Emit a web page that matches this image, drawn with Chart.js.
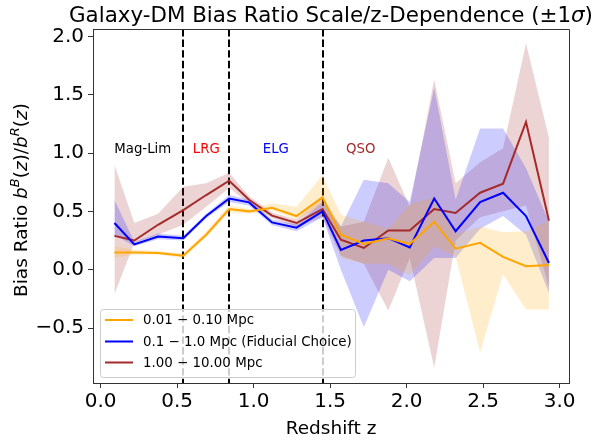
<!DOCTYPE html>
<html>
<head>
<meta charset="utf-8">
<script src="https://cdn.jsdelivr.net/npm/chart.js@4"></script>
<style>
  html, body { margin: 0; padding: 0; background: #fff; }
</style>
</head>
<body>
<canvas id="biasChart" width="593" height="441"></canvas>
<script>
// redshift bin centres
const redshift = [0.09, 0.22, 0.375, 0.54, 0.69, 0.84, 0.97, 1.12, 1.28, 1.45,
                  1.57, 1.72, 1.88, 2.02, 2.18, 2.32, 2.48, 2.63, 2.78, 2.93];

// 0.01 - 0.10 Mpc
const smallScale   = [0.148, 0.148, 0.143, 0.12, 0.30, 0.52, 0.50, 0.53, 0.46, 0.62,
                      0.30, 0.22, 0.27, 0.22, 0.41, 0.18, 0.23, 0.11, 0.03, 0.04];
const smallScaleLo = [0.10, 0.13, 0.13, 0.10, 0.28, 0.49, 0.48, 0.51, 0.43, 0.55,
                      0.10, 0.05, 0.05, -0.05, 0.20, 0.11, -0.71, -0.04, -0.34, -0.34];
const smallScaleHi = [0.20, 0.17, 0.16, 0.14, 0.33, 0.55, 0.52, 0.57, 0.54, 0.81,
                      0.47, 0.41, 0.35, 0.56, 0.62, 0.30, 0.37, 0.32, 0.33, 0.42];

// 0.1 - 1.0 Mpc (fiducial)
const midScale   = [0.40, 0.217, 0.285, 0.27, 0.46, 0.61, 0.577, 0.405, 0.36, 0.50,
                    0.17, 0.25, 0.27, 0.19, 0.61, 0.33, 0.58, 0.66, 0.46, 0.057];
const midScaleLo = [0.30, 0.20, 0.26, 0.25, 0.44, 0.58, 0.55, 0.38, 0.33, 0.45,
                    0.00, -0.49, 0.00, -0.10, 0.10, 0.10, 0.35, 0.46, 0.30, -0.20];
const midScaleHi = [0.60, 0.24, 0.31, 0.29, 0.48, 0.64, 0.60, 0.43, 0.39, 0.58,
                    0.37, 0.77, 0.74, 0.58, 1.56, 0.60, 1.21, 1.21, 0.87, 0.41];

// 1.00 - 10.00 Mpc
const largeScale   = [0.29, 0.25, 0.385, 0.51, 0.64, 0.763, 0.60, 0.463, 0.40, 0.52,
                      0.257, 0.186, 0.337, 0.337, 0.52, 0.486, 0.66, 0.737, 1.266, 0.42];
const largeScaleLo = [-0.21, 0.23, 0.30, 0.385, 0.54, 0.70, 0.57, 0.44, 0.37, 0.45,
                      0.12, 0.05, -0.35, 0.10, -0.84, 0.25, 0.45, 0.50, 0.55, -0.15];
const largeScaleHi = [0.90, 0.40, 0.48, 0.71, 0.74, 0.83, 0.63, 0.49, 0.43, 0.62,
                      0.37, 0.41, 0.96, 0.54, 1.63, 0.74, 0.92, 1.04, 1.94, 1.13];

const seriesLabels = ['0.01 \u2212 0.10 Mpc', '0.1 \u2212 1.0 Mpc (Fiducial Choice)', '1.00 \u2212 10.00 Mpc'];
const seriesColors = ['#FFA500', '#0000FF', '#A52A2A'];
const bandColors   = ['rgba(255,165,0,0.2)', 'rgba(0,0,255,0.2)', 'rgba(165,42,42,0.2)'];

// tracer sample boundaries and names
const sampleEdges  = [0.54, 0.84, 1.45];
const sampleNames  = ['Mag-Lim', 'LRG', 'ELG', 'QSO'];
const sampleNameZ  = [0.275, 0.69, 1.145, 1.70];
const sampleColors = ['#000000', '#FF0000', '#0000FF', '#A52A2A'];
const sampleNameY  = 1.0;

const xTicks = [0.0, 0.5, 1.0, 1.5, 2.0, 2.5, 3.0];
const yTicks = [-0.5, 0.0, 0.5, 1.0, 1.5, 2.0];

const FONT = "'DejaVu Sans', sans-serif";

function pts(ys) {
    return redshift.map((z, i) => ({ x: z, y: ys[i] }));
}

function band(lo, hi, color) {
    return [
        { data: pts(lo), borderColor: 'rgba(0,0,0,0)', borderWidth: 1, pointRadius: 0, fill: false, order: 5 },
        { data: pts(hi), borderColor: 'rgba(0,0,0,0)', borderWidth: 1, pointRadius: 0, fill: '-1', backgroundColor: color, order: 5 }
    ];
}

function line(ys, color) {
    return { data: pts(ys), borderColor: color, borderWidth: 2, pointRadius: 0, fill: false, tension: 0, order: 0 };
}

// draws a row of text pieces: [text, italic, scale, raise]
function drawRuns(ctx, runs, x, y, size, align) {
    const fontFor = r => (r[1] ? 'italic ' : '') + (size * (r[2] || 1)) + 'px ' + FONT;
    let total = 0;
    runs.forEach(r => { ctx.font = fontFor(r); total += ctx.measureText(r[0]).width; });
    let cx = align === 'center' ? x - total / 2 : x;
    ctx.textAlign = 'left';
    ctx.textBaseline = 'alphabetic';
    runs.forEach(r => {
        ctx.font = fontFor(r);
        ctx.fillText(r[0], cx, y - (r[3] || 0) * size);
        cx += ctx.measureText(r[0]).width;
    });
}

const decorations = {
    id: 'decorations',
    beforeDatasetsDraw(chart) {
        const { ctx, chartArea, scales } = chart;
        ctx.save();
        ctx.strokeStyle = '#000';
        ctx.lineWidth = 2;
        ctx.setLineDash([7.4, 3.2]);
        sampleEdges.forEach(z => {
            const px = Math.round(scales.x.getPixelForValue(z));
            ctx.beginPath();
            ctx.moveTo(px, chartArea.top);
            ctx.lineTo(px, chartArea.bottom);
            ctx.stroke();
        });
        ctx.restore();
    },
    afterDraw(chart) {
        const { ctx, chartArea, scales } = chart;
        ctx.save();

        // top and right spines
        ctx.strokeStyle = '#333';
        ctx.lineWidth = 1;
        ctx.beginPath();
        ctx.moveTo(chartArea.left, chartArea.top + 0.5);
        ctx.lineTo(chartArea.right + 0.5, chartArea.top + 0.5);
        ctx.lineTo(chartArea.right + 0.5, chartArea.bottom);
        ctx.stroke();

        // sample names
        ctx.font = '13.3px ' + FONT;
        ctx.textAlign = 'center';
        ctx.textBaseline = 'alphabetic';
        sampleNames.forEach((name, i) => {
            ctx.fillStyle = sampleColors[i];
            ctx.fillText(name, scales.x.getPixelForValue(sampleNameZ[i]), scales.y.getPixelForValue(sampleNameY));
        });

        // legend
        const lx = 100, ly = 309, lw = 255, lh = 68;
        ctx.fillStyle = 'rgba(255,255,255,0.8)';
        ctx.strokeStyle = '#cccccc';
        ctx.lineWidth = 1;
        ctx.beginPath();
        ctx.roundRect(lx + 0.5, ly + 0.5, lw, lh, 3);
        ctx.fill();
        ctx.stroke();
        const rows = [320, 341.5, 362.5];
        ctx.font = '13.4px ' + FONT;
        ctx.textAlign = 'left';
        ctx.textBaseline = 'middle';
        seriesLabels.forEach((label, i) => {
            ctx.strokeStyle = seriesColors[i];
            ctx.lineWidth = 2;
            ctx.beginPath();
            ctx.moveTo(105, rows[i]);
            ctx.lineTo(133, rows[i]);
            ctx.stroke();
            ctx.fillStyle = '#000';
            ctx.fillText(label, 143, rows[i] + 1);
        });

        // title
        ctx.fillStyle = '#000';
        drawRuns(ctx, [['Galaxy-DM Bias Ratio Scale/z-Dependence (\u00b11'], ['\u03c3', true], [')']],
            (chartArea.left + chartArea.right) / 2, 22, 21.4, 'center');

        // x axis title
        ctx.font = '18.5px ' + FONT;
        ctx.textAlign = 'center';
        ctx.textBaseline = 'alphabetic';
        ctx.fillText('Redshift z', (chartArea.left + chartArea.right) / 2, 434);

        // y axis title
        ctx.translate(27, 200);
        ctx.rotate(-Math.PI / 2);
        drawRuns(ctx, [
            ['Bias Ratio '], ['b', true], ['B', true, 0.7, 0.45], ['('], ['z', true], [')/'],
            ['b', true], ['R', true, 0.7, 0.45], ['('], ['z', true], [')']
        ], 0, 0, 18.5, 'center');

        ctx.restore();
    }
};

const tickFmt = v => (v < 0 ? '\u2212' + Math.abs(v).toFixed(1) : v.toFixed(1));

new Chart(document.getElementById('biasChart'), {
    type: 'line',
    data: {
        datasets: [
            ...band(smallScaleLo, smallScaleHi, bandColors[0]),
            ...band(midScaleLo, midScaleHi, bandColors[1]),
            ...band(largeScaleLo, largeScaleHi, bandColors[2]),
            line(smallScale, seriesColors[0]),
            line(midScale, seriesColors[1]),
            line(largeScale, seriesColors[2])
        ]
    },
    options: {
        responsive: false,
        animation: false,
        devicePixelRatio: 1,
        layout: { padding: { top: 29, right: 24, left: 0, bottom: 0 } },
        plugins: {
            legend: { display: false },
            tooltip: { enabled: false },
            title: { display: false }
        },
        scales: {
            x: {
                type: 'linear',
                min: -0.05,
                max: 3.061,
                afterBuildTicks: s => { s.ticks = xTicks.map(v => ({ value: v })); },
                afterFit: s => { s.height = 58; },
                grid: { drawOnChartArea: false, drawTicks: true, tickLength: 5, tickColor: '#333' },
                border: { display: true, color: '#333', width: 1 },
                ticks: { callback: tickFmt, color: '#000', font: { family: FONT, size: 20 }, padding: 2, maxRotation: 0 }
            },
            y: {
                type: 'linear',
                min: -0.971,
                max: 2.063,
                afterBuildTicks: s => { s.ticks = yTicks.map(v => ({ value: v })); },
                afterFit: s => { s.width = 93; },
                grid: { drawOnChartArea: false, drawTicks: true, tickLength: 5, tickColor: '#333' },
                border: { display: true, color: '#333', width: 1 },
                ticks: { callback: tickFmt, color: '#000', font: { family: FONT, size: 20 }, padding: 4 }
            }
        }
    },
    plugins: [decorations]
});
</script>
</body>
</html>
